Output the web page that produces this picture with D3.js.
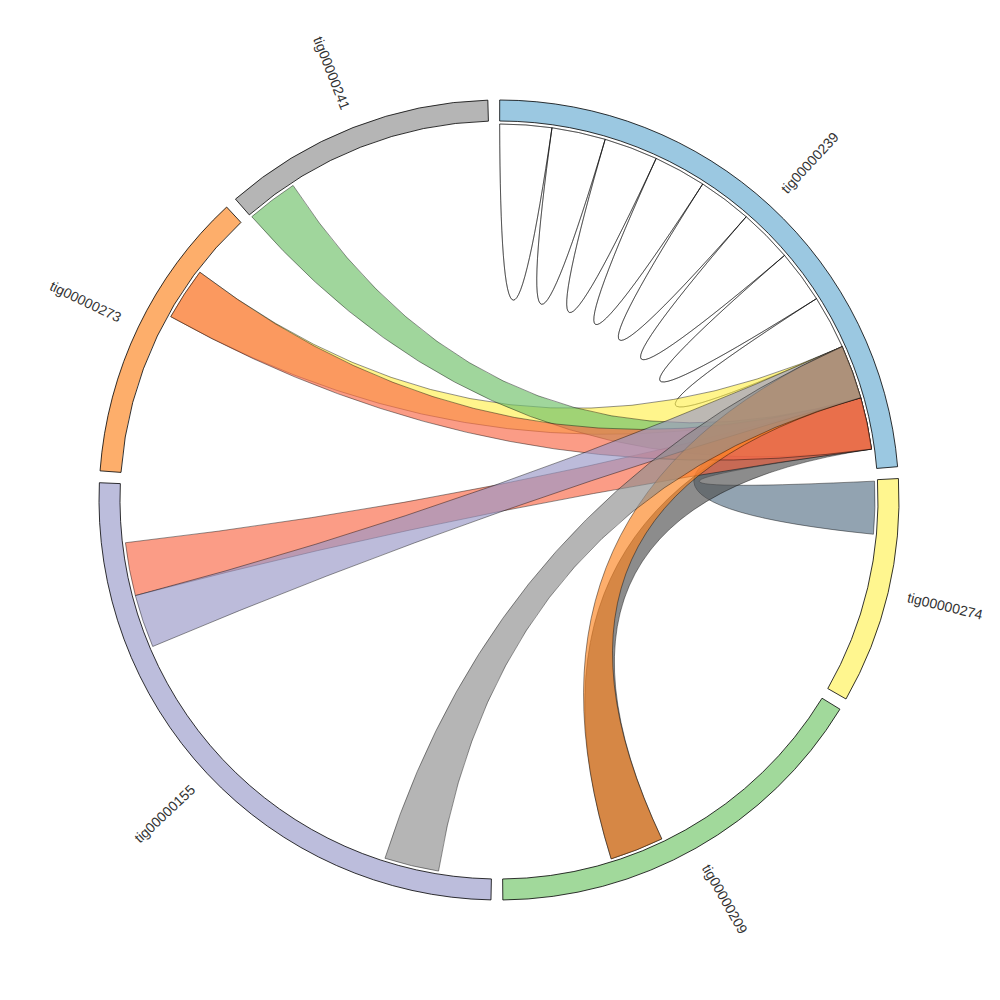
<!DOCTYPE html>
<html>
<head>
<meta charset="utf-8">
<script src="https://cdn.jsdelivr.net/npm/d3@7"></script>
<style>
body { margin: 0; background: #fff; }
</style>
</head>
<body>
<div id="chart"></div>
<script>
// contigs, in drawing order round the circle (lengths in 0.1 deg units of the layout)
var contigs = ["tig00000239", "tig00000274", "tig00000209", "tig00000155", "tig00000273", "tig00000241"];
var contigLengths = [851, 329, 579, 913, 429, 396];
var contigColors = ["#9bc8e1", "#fff68f", "#a1d99b", "#bcbddc", "#fdae6b", "#b5b5b5"];

// self alignments inside tig00000239 (consecutive blocks)
var selfLinkContig = "tig00000239";
var selfLinkBreaks = [0, 80, 163, 246, 327, 410, 493, 575, 658];
var selfLinkColors = ["#fff051", "#6fc169", "#fc8420", "#f96948", "#9998c7", "#8f8f8f", "#fff051", "#fc8420"];

// links between contigs, listed in drawing order
var linkFrom = ["tig00000274", "tig00000209", "tig00000273", "tig00000241", "tig00000155",
                "tig00000273", "tig00000155", "tig00000209", "tig00000155"];
var linkFromPos = [[2, 83], [328, 411], [250, 331], [1, 80], [741, 823],
                   [250, 331], [659, 741], [328, 411], [81, 165]];
var linkTo = ["tig00000239", "tig00000239", "tig00000239", "tig00000239", "tig00000239",
              "tig00000239", "tig00000239", "tig00000239", "tig00000239"];
var linkToPos = [[741, 821], [741, 821], [658, 741], [741, 821], [741, 821],
                 [741, 821], [658, 741], [658, 741], [658, 741]];
var linkColors = ["#5a7488", "#515151", "#fff051", "#6fc169", "#f96948",
                  "#f96948", "#9998c7", "#fc8420", "#8f8f8f"];

var width = 1000, height = 1000,
    outerRadius = 400, innerRadius = 379, ribbonRadius = 376,
    labelRadius = 420;

var svg = d3.select("#chart").append("svg")
    .attr("width", width)
    .attr("height", height);
var g = svg.append("g")
    .attr("transform", "translate(499,500)");

// angle scales, one per contig
var pad = 1.7 * Math.PI / 180,
    offset = 0.1 * Math.PI / 180;
var k = (2 * Math.PI - pad * contigs.length) / d3.sum(contigLengths);
var cum = [0].concat(Array.from(d3.cumsum(contigLengths)));
var scales = {};
contigs.forEach(function(c, i) {
    var a0 = offset + cum[i] * k + i * pad;
    scales[c] = d3.scaleLinear()
        .domain([0, contigLengths[i]])
        .range([a0, a0 + contigLengths[i] * k]);
});

// ribbons: quadratic curves, control pulled slightly off centre for short chords
var half = Math.PI / 2, bend = 0.075;
function pt(a) {
    return [ribbonRadius * Math.cos(a - half), ribbonRadius * Math.sin(a - half)];
}
function ctrl(a, b) {
    var d = Math.abs(a - b);
    if (d > Math.PI) d = 2 * Math.PI - d;
    var c = ribbonRadius * bend * Math.max(0, 1 - d / half);
    var mx = Math.cos(a - half) + Math.cos(b - half),
        my = Math.sin(a - half) + Math.sin(b - half);
    var len = Math.sqrt(mx * mx + my * my) || 1;
    return [c * mx / len, c * my / len];
}
function ribbonPath(s0, s1, t0, t1) {
    var p = d3.path(), a, b, c;
    a = pt(s0);
    p.moveTo(a[0], a[1]);
    p.arc(0, 0, ribbonRadius, s0 - half, s1 - half);
    c = ctrl(s1, t0); b = pt(t0);
    p.quadraticCurveTo(c[0], c[1], b[0], b[1]);
    p.arc(0, 0, ribbonRadius, t0 - half, t1 - half);
    c = ctrl(t1, s0);
    p.quadraticCurveTo(c[0], c[1], a[0], a[1]);
    p.closePath();
    return p.toString();
}

var ribbons = [];
var sc = scales[selfLinkContig];
for (var i = 0; i < selfLinkBreaks.length - 1; i++) {
    var a0 = sc(selfLinkBreaks[i]), a1 = sc(selfLinkBreaks[i + 1]);
    ribbons.push({d: ribbonPath(a0, a1, a0, a1), color: selfLinkColors[i]});
}
linkFrom.forEach(function(c, i) {
    var sf = scales[c], st = scales[linkTo[i]];
    ribbons.push({
        d: ribbonPath(sf(linkFromPos[i][0]), sf(linkFromPos[i][1]),
                      st(linkToPos[i][0]), st(linkToPos[i][1])),
        color: linkColors[i]
    });
});

g.append("g").selectAll("path")
    .data(ribbons)
    .enter().append("path")
    .attr("d", function(d) { return d.d; })
    .style("fill", function(d) { return d.color; })
    .style("fill-opacity", 0.66)
    .style("fill-rule", "evenodd")
    .style("stroke", "#000")
    .style("stroke-width", 0.5)
    .style("stroke-opacity", 0.85);

// contig arcs
var arc = d3.arc()
    .innerRadius(innerRadius)
    .outerRadius(outerRadius);

g.append("g").selectAll("path")
    .data(contigs)
    .enter().append("path")
    .attr("d", function(c) {
        return arc({startAngle: scales[c].range()[0], endAngle: scales[c].range()[1]});
    })
    .style("fill", function(c, i) { return contigColors[i]; })
    .style("stroke", "#000")
    .style("stroke-width", 0.8);

// labels, radial
g.append("g").selectAll("text")
    .data(contigs)
    .enter().append("text")
    .attr("transform", function(c) {
        var r = scales[c].range(), m = (r[0] + r[1]) / 2;
        return "rotate(" + (m * 180 / Math.PI - 90) + ")translate(" + labelRadius + ",0)" +
            (m > Math.PI ? "rotate(180)" : "");
    })
    .attr("dy", ".35em")
    .attr("text-anchor", function(c) {
        var r = scales[c].range();
        return (r[0] + r[1]) / 2 > Math.PI ? "end" : "start";
    })
    .style("font-family", "'Liberation Sans', Arial, sans-serif")
    .style("font-size", "14px")
    .style("fill", "#333")
    .text(function(c) { return c; });
</script>
</body>
</html>
